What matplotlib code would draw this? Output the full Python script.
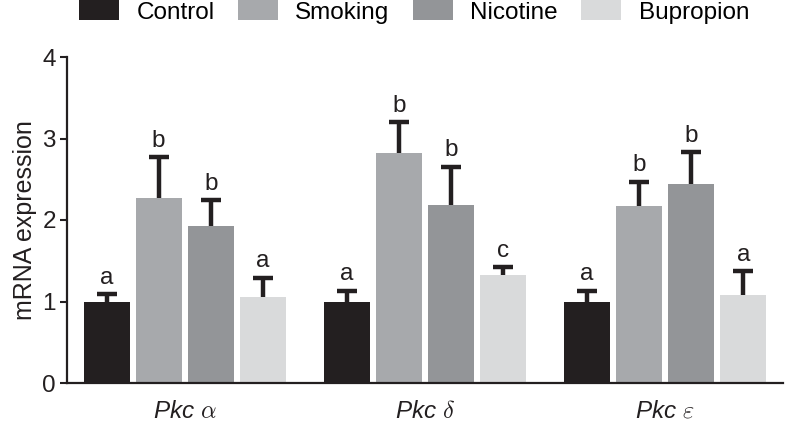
import matplotlib
matplotlib.use("Agg")
import matplotlib.pyplot as plt
import numpy as np

plt.rcParams['font.family'] = ['Liberation Sans', 'DejaVu Sans']
plt.rcParams['mathtext.fontset'] = 'cm'

genes = [r'Pkc $\alpha$', r'Pkc $\delta$', r'Pkc $\varepsilon$']
groups = ['Control', 'Smoking', 'Nicotine', 'Bupropion']
colors = ['#231f20', '#a7a9ac', '#939598', '#d9dadb']

control = [1.00, 1.00, 1.00]
smoking = [2.27, 2.82, 2.17]
nicotine = [1.93, 2.19, 2.44]
bupropion = [1.06, 1.32, 1.08]

control_err = [0.09, 0.13, 0.13]
smoking_err = [0.50, 0.38, 0.30]
nicotine_err = [0.31, 0.46, 0.39]
bupropion_err = [0.23, 0.10, 0.29]

control_sig = ['a', 'a', 'a']
smoking_sig = ['b', 'b', 'b']
nicotine_sig = ['b', 'b', 'b']
bupropion_sig = ['a', 'c', 'a']

values = [control, smoking, nicotine, bupropion]
errors = [control_err, smoking_err, nicotine_err, bupropion_err]
sigs = [control_sig, smoking_sig, nicotine_sig, bupropion_sig]

fig = plt.figure(figsize=(7.85, 4.22), dpi=100)
ax = fig.add_axes([67/785, 1-383/422, (783-67)/785, (383-57)/422])

x = np.arange(len(genes))
pitch = 52/240
width = 46/240
for i, (name, vals, errs, sg, col) in enumerate(zip(groups, values, errors, sigs, colors)):
    xs = x + (i - 1.5) * pitch
    ax.bar(xs, vals, width=width, color=col, label=name, zorder=2, linewidth=0)
    eb = ax.errorbar(xs, vals, yerr=[np.zeros(len(vals)), errs], fmt='none',
                     ecolor='#231f20', elinewidth=3.2, capsize=7.2, capthick=3.2, zorder=3)
    for cl in eb[1]:
        if np.allclose(np.asarray(cl.get_ydata(), dtype=float), np.asarray(vals)):
            cl.set_visible(False)
    for xi, v, e, s in zip(xs, vals, errs, sg):
        ax.annotate(s, (xi, v + e), xytext=(0, 4), textcoords='offset points',
                    ha='center', va='bottom', fontsize=17.5, color='#231f20')

ax.set_xlim(-0.49, 2.49)
ax.set_ylim(0, 4)
ax.set_yticks([0, 1, 2, 3, 4])
ax.set_xticks(x)
ax.set_xticklabels(genes, fontsize=17.5, fontstyle='italic')
ax.tick_params(axis='x', length=0, pad=12, colors='#231f20')
ax.tick_params(axis='y', length=5, width=1.5, labelsize=17.5, colors='#231f20', direction='out', pad=3)
ax.set_ylabel('mRNA expression', fontsize=18, color='#231f20', labelpad=4)
for s in ['top', 'right']:
    ax.spines[s].set_visible(False)
for s in ['left', 'bottom']:
    ax.spines[s].set_linewidth(1.6)
    ax.spines[s].set_color('#231f20')

fig.legend(loc='center', bbox_to_anchor=(414/785, 1-12/422), ncol=4, frameon=False,
           fontsize=17.5, handlelength=1.65, handleheight=0.85, handletextpad=0.72,
           columnspacing=0.95, borderpad=0, borderaxespad=0)

fig.savefig('out.png', dpi=100)
